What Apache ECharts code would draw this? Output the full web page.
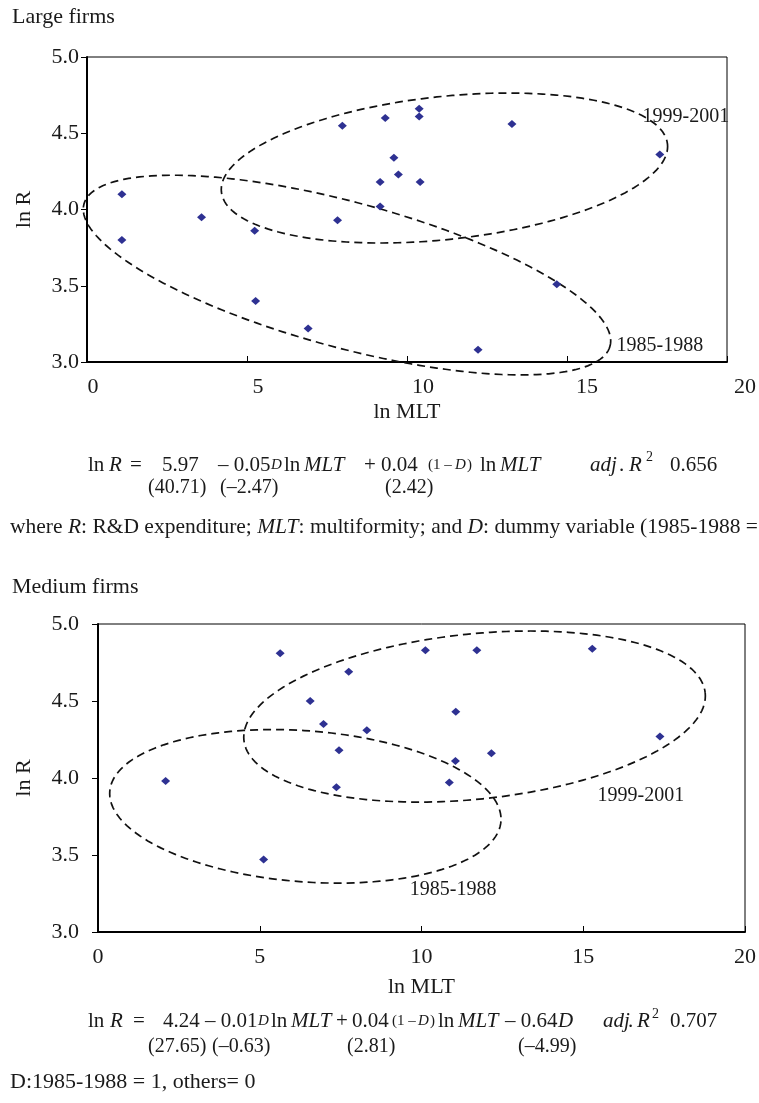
<!DOCTYPE html>
<html><head><meta charset="utf-8">
<script src="https://cdn.jsdelivr.net/npm/echarts@6/dist/echarts.min.js"></script>
<style>html,body{margin:0;padding:0;background:#fff}#c{width:759px;height:1103px}</style>
</head><body><div id="c"></div>
<script>
// ---------- data ----------
const xTicks = [0, 5, 10, 15, 20];
const yTicks = [3.0, 3.5, 4.0, 4.5, 5.0];

const largeX = [1.09, 1.09, 3.58, 5.24, 5.27, 6.91, 7.83, 7.98, 9.16, 9.16, 9.32, 10.38, 10.38, 13.28, 9.59, 9.73, 10.41, 17.90, 14.68, 12.22];
const largeY = [4.10, 3.80, 3.95, 3.86, 3.40, 3.22, 3.93, 4.55, 4.18, 4.02, 4.60, 4.66, 4.61, 4.56, 4.34, 4.23, 4.18, 4.36, 3.51, 3.08];

const mediumX = [2.09, 5.63, 5.12, 6.56, 6.97, 7.75, 7.45, 7.37, 8.31, 10.12, 11.71, 15.28, 11.06, 17.37, 12.16, 11.05, 10.86];
const mediumY = [3.98, 4.81, 3.47, 4.50, 4.35, 4.69, 4.18, 3.94, 4.31, 4.83, 4.83, 4.84, 4.43, 4.27, 4.16, 4.11, 3.97];

const periodLabels = ['1999-2001', '1985-1988'];

// period ellipses in data units: centre, two semi-axis vectors, label anchor
const largeEllipses = [
  { label: periodLabels[0], c: [11.17, 4.272], u: [6.97, 0.157], v: [0.237, -0.466], at: [17.36, 4.607] },
  { label: periodLabels[1], c: [8.125, 3.570], u: [8.22, -0.466], v: [-0.590, -0.460], at: [16.55, 3.105] }
];
const mediumEllipses = [
  { label: periodLabels[0], c: [11.64, 4.399], u: [7.13, 0.153], v: [0.254, -0.534], at: [15.44, 3.883] },
  { label: periodLabels[1], c: [6.41, 3.816], u: [6.046, -0.0972], v: [-0.174, -0.489], at: [9.64, 3.273] }
];

// ---------- style ----------
const FF = '"Liberation Serif", "Times New Roman", Times, serif';
const INK = '#1a1a1a';
const DOT = '#2e3192';
const AX = 22;

function ellipseRender(list) {
  return function (params, api) {
    const e = list[params.dataIndex];
    const pts = [];
    const N = 180;
    for (let k = 0; k <= N; k++) {
      const t = 2 * Math.PI * k / N;
      pts.push(api.coord([
        e.c[0] + e.u[0] * Math.cos(t) + e.v[0] * Math.sin(t),
        e.c[1] + e.u[1] * Math.cos(t) + e.v[1] * Math.sin(t)
      ]));
    }
    const lp = api.coord(e.at);
    return {
      type: 'group',
      children: [
        { type: 'polyline', shape: { points: pts },
          style: { stroke: '#111', lineWidth: 1.7, lineDash: [8, 5], fill: null } },
        { type: 'text', x: lp[0], y: lp[1],
          style: { text: e.label, font: '20px ' + FF, fill: INK, textAlign: 'left', textVerticalAlign: 'middle' } }
      ]
    };
  };
}

function xAxis(gridIndex, nameGap, shifted) {
  const ax = {
    type: 'value', gridIndex, min: xTicks[0], max: xTicks[xTicks.length - 1], interval: 5,
    name: 'ln MLT', nameLocation: 'middle', nameGap,
    nameTextStyle: { fontFamily: FF, fontSize: AX, color: INK },
    axisLine: { show: true, lineStyle: { color: '#000', width: 2 } },
    axisTick: { show: true, inside: true, length: 6, lineStyle: { color: '#000', width: 1 } },
    splitLine: { show: false },
    axisLabel: { fontFamily: FF, fontSize: AX, color: INK, margin: 14 }
  };
  if (shifted) {
    const pads = { 0: 12, 5: 22, 10: 32, 15: 40, 20: 36 };
    const rich = {};
    xTicks.forEach(v => { rich['p' + v] = { fontFamily: FF, fontSize: AX, color: INK, padding: [0, 0, 0, pads[v]] }; });
    ax.axisLabel.formatter = v => '{p' + v + '|' + v + '}';
    ax.axisLabel.rich = rich;
  }
  return ax;
}
function yAxis(gridIndex, nameGap, margin) {
  return {
    type: 'value', gridIndex, min: yTicks[0], max: yTicks[yTicks.length - 1], interval: 0.5,
    name: 'ln R', nameLocation: 'middle', nameGap, nameRotate: 90,
    nameTextStyle: { fontFamily: FF, fontSize: AX, color: INK },
    axisLine: { show: true, lineStyle: { color: '#000', width: 2 } },
    axisTick: { show: true, inside: false, length: 6, lineStyle: { color: '#000', width: 1 } },
    splitLine: { show: false },
    axisLabel: { fontFamily: FF, fontSize: AX, color: INK, margin, formatter: v => v.toFixed(1) }
  };
}

// text helper for the equations and notes
function T(x, y, text, kind, base) {
  let size = base || 21, italic = false;
  if (kind === 'i') italic = true;
  if (kind === 's') size = 15;
  if (kind === 'si') { size = 15; italic = true; }
  if (kind === 'sup') size = 14;
  return { type: 'text', x, y, silent: true,
    style: { text, font: (italic ? 'italic ' : '') + size + 'px ' + FF, fill: INK, textAlign: 'left', textVerticalAlign: 'middle' } };
}

const eqTop = [
  [88, 'ln'], [109, 'R', 'i'], [130, '='], [162, '5.97'], [218, '– 0.05'], [271, 'D', 'si'],
  [284, 'ln'], [304, 'MLT', 'i'], [364, '+'], [381, '0.04'], [428, '(1 –', 's'], [455, 'D', 'si'], [467, ')', 's'],
  [480, 'ln'], [500, 'MLT', 'i'], [590, 'adj', 'i'], [619, '.'], [629, 'R', 'i'], [670, '0.656']
];
const eqTopT = [[148, '(40.71)'], [220, '(–2.47)'], [385, '(2.42)']];
const eqBot = [
  [88, 'ln'], [110, 'R', 'i'], [133, '='], [163, '4.24'], [205, '– 0.01'], [258, 'D', 'si'],
  [271, 'ln'], [291, 'MLT', 'i'], [336, '+'], [352, '0.04'], [392, '(1 –', 's'], [418, 'D', 'si'], [430, ')', 's'],
  [438, 'ln'], [458, 'MLT', 'i'], [505, '– 0.64'], [558, 'D', 'i'], [603, 'adj', 'i'], [628, '.'],
  [637, 'R', 'i'], [670, '0.707']
];
const eqBotT = [[148, '(27.65)'], [212, '(–0.63)'], [347, '(2.81)'], [518, '(–4.99)']];

const graphics = [];
graphics.push(T(12, 17, 'Large firms', null, 22));
graphics.push(T(12, 587, 'Medium firms', null, 22));
eqTop.forEach(s => graphics.push(T(s[0], 465, s[1], s[2])));
graphics.push(T(646, 457, '2', 'sup'));
eqTopT.forEach(s => graphics.push(T(s[0], 488, s[1], null, 20)));
eqBot.forEach(s => graphics.push(T(s[0], 1021, s[1], s[2])));
graphics.push(T(652, 1014, '2', 'sup'));
eqBotT.forEach(s => graphics.push(T(s[0], 1047, s[1], null, 20)));
graphics.push({ type: 'text', x: 10, y: 527, silent: true,
  style: { text: 'where {i|R}: R&D expenditure; {i|MLT}: multiformity; and {i|D}: dummy variable (1985-1988 =',
    font: '21.5px ' + FF, fill: INK, textAlign: 'left', textVerticalAlign: 'middle',
    rich: { i: { fontStyle: 'italic', fontSize: 21.5, fontFamily: FF, fill: INK } } } });
graphics.push(T(10, 1082, 'D:1985-1988 = 1, others= 0', null, 22));

const chart = echarts.init(document.getElementById('c'), null, { renderer: 'canvas' });
chart.setOption({
  animation: false,
  backgroundColor: '#fff',
  textStyle: { fontFamily: FF, color: INK },
  grid: [
    { left: 87, top: 57, right: 31, height: 305, show: true, borderColor: '#000', borderWidth: 1, backgroundColor: 'transparent' },
    { left: 98, top: 624, right: 8, height: 308, show: true, borderColor: '#000', borderWidth: 1, backgroundColor: 'transparent' }
  ],
  xAxis: [xAxis(0, 39, true), xAxis(1, 44, false)],
  yAxis: [yAxis(0, 52, 8), yAxis(1, 63, 19)],
  series: [
    { type: 'scatter', xAxisIndex: 0, yAxisIndex: 0, symbol: 'diamond', symbolSize: [9, 8], z: 3,
      itemStyle: { color: DOT, opacity: 1 }, data: largeX.map((x, i) => [x, largeY[i]]) },
    { type: 'custom', xAxisIndex: 0, yAxisIndex: 0, renderItem: ellipseRender(largeEllipses), clip: false,
      encode: { x: 0, y: 1 }, data: largeEllipses.map(e => e.c), z: 1 },
    { type: 'scatter', xAxisIndex: 1, yAxisIndex: 1, symbol: 'diamond', symbolSize: [9, 8], z: 3,
      itemStyle: { color: DOT, opacity: 1 }, data: mediumX.map((x, i) => [x, mediumY[i]]) },
    { type: 'custom', xAxisIndex: 1, yAxisIndex: 1, renderItem: ellipseRender(mediumEllipses), clip: false,
      encode: { x: 0, y: 1 }, data: mediumEllipses.map(e => e.c), z: 1 }
  ],
  graphic: graphics
});
</script>
</body></html>
